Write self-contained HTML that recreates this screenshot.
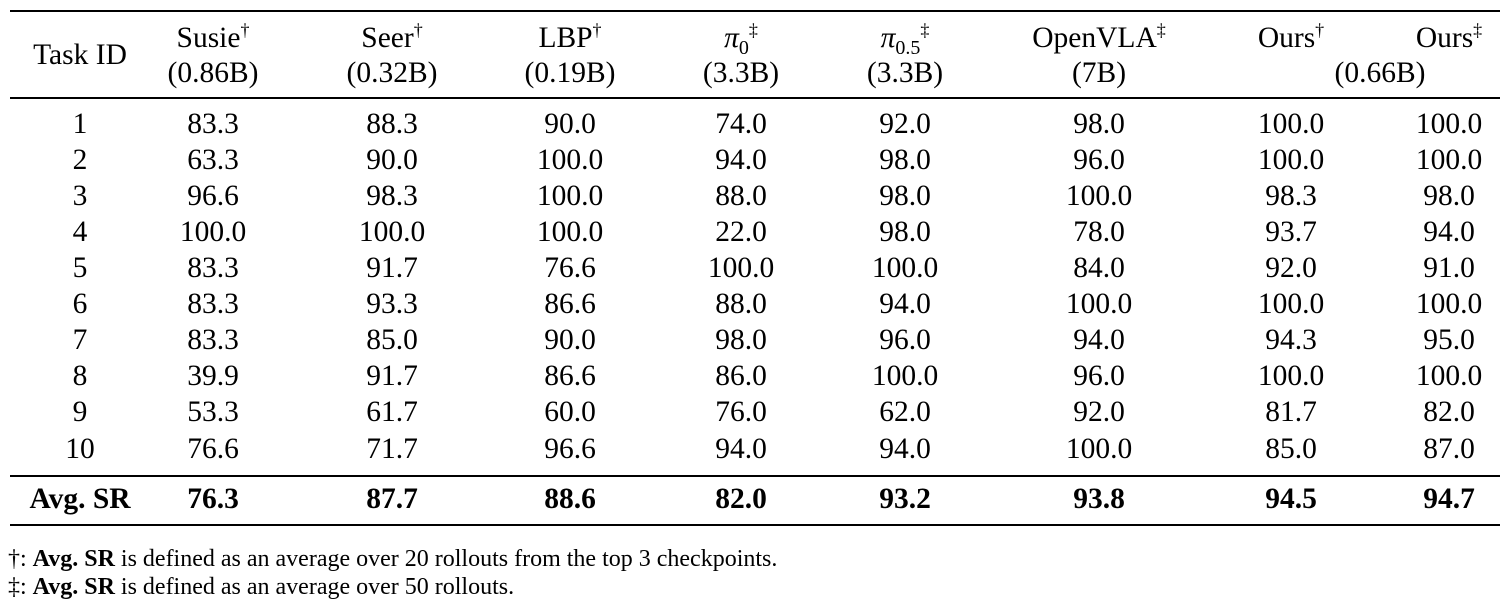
<!DOCTYPE html>
<html><head><meta charset="utf-8"><style>
body{margin:0;width:1510px;height:607px;background:#fff;position:relative;overflow:hidden;font-family:"Liberation Serif",serif;color:#000}
.r{position:absolute;left:0;width:1510px;height:36px;font-size:29.5px;line-height:36px}
.r span{position:absolute;top:0;transform:translateX(-50%);white-space:nowrap}
.r span:nth-child(1){left:80px}.r span:nth-child(2){left:213px}.r span:nth-child(3){left:392px}
.r span:nth-child(4){left:570px}.r span:nth-child(5){left:741px}.r span:nth-child(6){left:905px}
.r span:nth-child(7){left:1099px}.r span:nth-child(8){left:1291px}.r span:nth-child(9){left:1449px}
.b{font-weight:bold}
.rule{position:absolute;left:10px;width:1490px;background:#000}
sup{font-size:18px;vertical-align:0;position:relative;top:-11px}
sub{font-size:20px;vertical-align:0;position:relative;top:7px}
i{font-style:italic}
.fn{position:absolute;left:8px;font-size:24px;line-height:28px;white-space:nowrap}
</style></head><body>
<div class="rule" style="top:10px;height:2px"></div>
<div class="rule" style="top:97px;height:1.5px"></div>
<div class="rule" style="top:475px;height:1.5px"></div>
<div class="rule" style="top:524px;height:2px"></div>

<div class="r" style="top:20px"><span></span><span>Susie<sup>†</sup></span><span>Seer<sup>†</sup></span><span>LBP<sup>†</sup></span><span><i>π</i><sub>0</sub><sup>‡</sup></span><span><i>π</i><sub>0.5</sub><sup>‡</sup></span><span>OpenVLA<sup>‡</sup></span><span>Ours<sup>†</sup></span><span>Ours<sup>‡</sup></span></div>
<div class="r" style="top:37px"><span>Task ID</span></div>
<div class="r" style="top:55px"><span></span><span>(0.86B)</span><span>(0.32B)</span><span>(0.19B)</span><span>(3.3B)</span><span>(3.3B)</span><span>(7B)</span><span style="left:1380px">(0.66B)</span></div>

<div class="r" style="top:106px"><span>1</span><span>83.3</span><span>88.3</span><span>90.0</span><span>74.0</span><span>92.0</span><span>98.0</span><span>100.0</span><span>100.0</span></div>
<div class="r" style="top:142px"><span>2</span><span>63.3</span><span>90.0</span><span>100.0</span><span>94.0</span><span>98.0</span><span>96.0</span><span>100.0</span><span>100.0</span></div>
<div class="r" style="top:178px"><span>3</span><span>96.6</span><span>98.3</span><span>100.0</span><span>88.0</span><span>98.0</span><span>100.0</span><span>98.3</span><span>98.0</span></div>
<div class="r" style="top:214px"><span>4</span><span>100.0</span><span>100.0</span><span>100.0</span><span>22.0</span><span>98.0</span><span>78.0</span><span>93.7</span><span>94.0</span></div>
<div class="r" style="top:250px"><span>5</span><span>83.3</span><span>91.7</span><span>76.6</span><span>100.0</span><span>100.0</span><span>84.0</span><span>92.0</span><span>91.0</span></div>
<div class="r" style="top:286px"><span>6</span><span>83.3</span><span>93.3</span><span>86.6</span><span>88.0</span><span>94.0</span><span>100.0</span><span>100.0</span><span>100.0</span></div>
<div class="r" style="top:322px"><span>7</span><span>83.3</span><span>85.0</span><span>90.0</span><span>98.0</span><span>96.0</span><span>94.0</span><span>94.3</span><span>95.0</span></div>
<div class="r" style="top:358px"><span>8</span><span>39.9</span><span>91.7</span><span>86.6</span><span>86.0</span><span>100.0</span><span>96.0</span><span>100.0</span><span>100.0</span></div>
<div class="r" style="top:394px"><span>9</span><span>53.3</span><span>61.7</span><span>60.0</span><span>76.0</span><span>62.0</span><span>92.0</span><span>81.7</span><span>82.0</span></div>
<div class="r" style="top:431px"><span>10</span><span>76.6</span><span>71.7</span><span>96.6</span><span>94.0</span><span>94.0</span><span>100.0</span><span>85.0</span><span>87.0</span></div>
<div class="r b" style="top:481px"><span>Avg. SR</span><span>76.3</span><span>87.7</span><span>88.6</span><span>82.0</span><span>93.2</span><span>93.8</span><span>94.5</span><span>94.7</span></div>

<div class="fn" style="top:545px">†: <b>Avg. SR</b> is defined as an average over 20 rollouts from the top 3 checkpoints.</div>
<div class="fn" style="top:573px">‡: <b>Avg. SR</b> is defined as an average over 50 rollouts.</div>
</body></html>
